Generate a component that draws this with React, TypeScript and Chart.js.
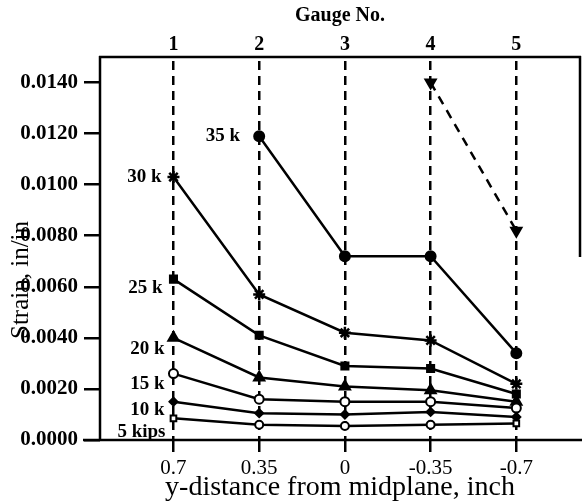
import React, { useEffect, useRef } from 'react';
import { Chart, registerables } from 'chart.js';

Chart.register(...registerables);

// ---- data ----
const positions = [0.7, 0.35, 0, -0.35, -0.7];
const positionLabels = ['0.7', '0.35', '0', '-0.35', '-0.7'];
const gaugeLabels = ['1', '2', '3', '4', '5'];
const yTicks = [0, 0.002, 0.004, 0.006, 0.008, 0.01, 0.012, 0.014];

const load5 = [0.00085, 0.0006, 0.00055, 0.0006, 0.00065];
const load10 = [0.0015, 0.00105, 0.001, 0.0011, 0.0009];
const load15 = [0.0026, 0.0016, 0.0015, 0.0015, 0.00125];
const load20 = [0.004, 0.00245, 0.0021, 0.00195, 0.0015];
const load25 = [0.0063, 0.0041, 0.0029, 0.0028, 0.0018];
const load30 = [0.0103, 0.0057, 0.0042, 0.0039, 0.0022];
const load35 = [null, 0.0119, 0.0072, 0.0072, 0.0034];
const loadFinal = [null, null, null, 0.014, 0.0082];

const seriesLabels = ['5 kips', '10 k', '15 k', '20 k', '25 k', '30 k', '35 k', ''];

// ---- styles ----
const SERIF = '"Liberation Serif", "Times New Roman", serif';
const INK = '#000';
// [dx to the left of first point, dy below it]
const labelOffsets = [
  [8, 14],
  [9, 8],
  [9, 10],
  [9, 11],
  [11, 9],
  [12, 0],
  [19, 0],
  [0, 0],
];

const toPoints = (vals: (number | null)[]) => positions.map((x, i) => ({ x, y: vals[i] }));

const base = {
  borderColor: INK,
  borderWidth: 2.5,
  pointBorderColor: INK,
  pointBorderWidth: 2,
  tension: 0,
  spanGaps: false,
  xAxisID: 'x',
  yAxisID: 'y',
};

const datasets: any[] = [
  { ...base, label: seriesLabels[0], data: toPoints(load5), pointStyle: ['rect', 'circle', 'circle', 'circle', 'rect'], pointRadius: 4, pointBackgroundColor: '#fff' },
  { ...base, label: seriesLabels[1], data: toPoints(load10), pointStyle: 'rectRot', pointRadius: 4, pointBackgroundColor: INK },
  { ...base, label: seriesLabels[2], data: toPoints(load15), pointStyle: 'circle', pointRadius: 4.5, pointBackgroundColor: '#fff' },
  { ...base, label: seriesLabels[3], data: toPoints(load20), pointStyle: 'triangle', pointRadius: 6, pointBackgroundColor: INK },
  { ...base, label: seriesLabels[4], data: toPoints(load25), pointStyle: 'rect', pointRadius: 5, pointBackgroundColor: INK },
  { ...base, label: seriesLabels[5], data: toPoints(load30), pointStyle: 'star', pointRadius: 6, pointBorderWidth: 2.5, pointBackgroundColor: INK },
  { ...base, label: seriesLabels[6], data: toPoints(load35), pointStyle: 'circle', pointRadius: 5, pointBackgroundColor: INK },
  { ...base, label: 'final', data: toPoints(loadFinal), pointStyle: 'triangle', pointRotation: 180, pointRadius: 6, pointBackgroundColor: INK, borderDash: [9, 7] },
];

const framePlugin = {
  id: 'frame',
  afterDraw(chart: any) {
    const { ctx, chartArea: a } = chart;
    ctx.save();
    ctx.strokeStyle = INK;
    ctx.lineWidth = 2.5;
    ctx.beginPath();
    // left axis
    ctx.moveTo(a.left, a.top - 1);
    ctx.lineTo(a.left, a.bottom);
    // top border
    ctx.moveTo(a.left - 1, a.top);
    ctx.lineTo(a.right + 1, a.top);
    // right border (upper part visible in scan)
    ctx.moveTo(a.right, a.top - 1);
    ctx.lineTo(a.right, a.top + 200);
    // bottom axis, extended
    ctx.moveTo(a.left - 17, a.bottom);
    ctx.lineTo(chart.width, a.bottom);
    ctx.stroke();

    // y-axis title (overlapping the tick labels as in the original)
    ctx.fillStyle = INK;
    ctx.font = `25px ${SERIF}`;
    ctx.translate(21, 280);
    ctx.rotate(-Math.PI / 2);
    ctx.textAlign = 'center';
    ctx.textBaseline = 'middle';
    ctx.fillText('Strain, in/in', 0, 0);
    ctx.restore();
  },
};

const labelPlugin = {
  id: 'loadLabels',
  afterDatasetsDraw(chart: any) {
    const c = chart.ctx;
    c.save();
    c.font = `bold 19px ${SERIF}`;
    c.fillStyle = INK;
    c.textAlign = 'right';
    c.textBaseline = 'middle';
    chart.data.datasets.forEach((ds: any, di: number) => {
      const text = seriesLabels[di];
      if (!text) return;
      const meta = chart.getDatasetMeta(di);
      const idx = ds.data.findIndex((p: any) => p.y != null);
      const el = meta.data[idx];
      if (!el) return;
      const [dx, dy] = labelOffsets[di];
      c.fillText(text, el.x - dx, el.y + dy);
    });
    c.restore();
  },
};

const noSidePadding = (s: any) => {
  s.paddingLeft = 0;
  s.paddingRight = 0;
};

export default function App() {
  const ref = useRef<HTMLCanvasElement>(null);

  useEffect(() => {
    const canvas = ref.current;
    if (!canvas) return;
    const chart = new Chart(canvas, {
      type: 'line',
      data: { datasets },
      options: {
        animation: false,
        responsive: false,
        devicePixelRatio: 1,
        layout: { autoPadding: false, padding: { left: 0, right: 2, top: 0, bottom: 0 } },
        plugins: { legend: { display: false }, tooltip: { enabled: false } },
        scales: {
          x: {
            type: 'linear',
            position: 'bottom',
            min: -0.96,
            max: 1.0,
            reverse: true,
            afterBuildTicks: (s: any) => { s.ticks = positions.map((v) => ({ value: v })); },
            afterFit: (s: any) => { s.height = 64; noSidePadding(s); },
            ticks: {
              callback: (v: any) => positionLabels[positions.indexOf(v)],
              color: INK,
              font: { family: SERIF, size: 21 },
              padding: 4,
              maxRotation: 0,
              autoSkip: false,
            },
            grid: {
              display: true,
              drawOnChartArea: true,
              color: INK,
              lineWidth: 2.5,
              tickLength: 12,
              tickBorderDash: [],
            },
            border: { display: false, dash: [9, 6], dashOffset: -4 },
            title: {
              display: true,
              text: 'y-distance from midplane, inch',
              color: INK,
              font: { family: SERIF, size: 28 },
              padding: { top: 0, bottom: 0 },
            },
          },
          x2: {
            type: 'linear',
            position: 'top',
            min: -0.96,
            max: 1.0,
            reverse: true,
            afterBuildTicks: (s: any) => { s.ticks = positions.map((v) => ({ value: v })); },
            afterFit: (s: any) => { s.height = 57; noSidePadding(s); },
            ticks: {
              callback: (v: any) => gaugeLabels[positions.indexOf(v)],
              color: INK,
              font: { family: SERIF, size: 20, weight: 'bold' },
              padding: 0,
              maxRotation: 0,
              autoSkip: false,
            },
            grid: { display: false, drawTicks: false },
            border: { display: false },
            title: {
              display: true,
              text: 'Gauge No.',
              color: INK,
              font: { family: SERIF, size: 20, weight: 'bold' },
              padding: { top: 4, bottom: 0 },
            },
          },
          y: {
            type: 'linear',
            min: 0,
            max: 0.015,
            afterBuildTicks: (s: any) => { s.ticks = yTicks.map((v) => ({ value: v })); },
            afterFit: (s: any) => { s.width = 100; },
            ticks: {
              callback: (v: any) => Number(v).toFixed(4),
              color: INK,
              font: { family: SERIF, size: 21, weight: 'bold' },
              padding: 6,
            },
            grid: {
              display: true,
              drawOnChartArea: false,
              color: INK,
              lineWidth: 2.5,
              tickLength: 16,
            },
            border: { display: false },
            title: { display: false },
          },
        },
      } as any,
      plugins: [framePlugin, labelPlugin],
    });
    return () => chart.destroy();
  }, []);

  return (
    <div style={{ position: 'fixed', left: 0, top: 0, width: 582, height: 504, background: '#fff' }}>
      <canvas ref={ref} width={582} height={504} style={{ display: 'block', width: 582, height: 504 }} />
    </div>
  );
}
